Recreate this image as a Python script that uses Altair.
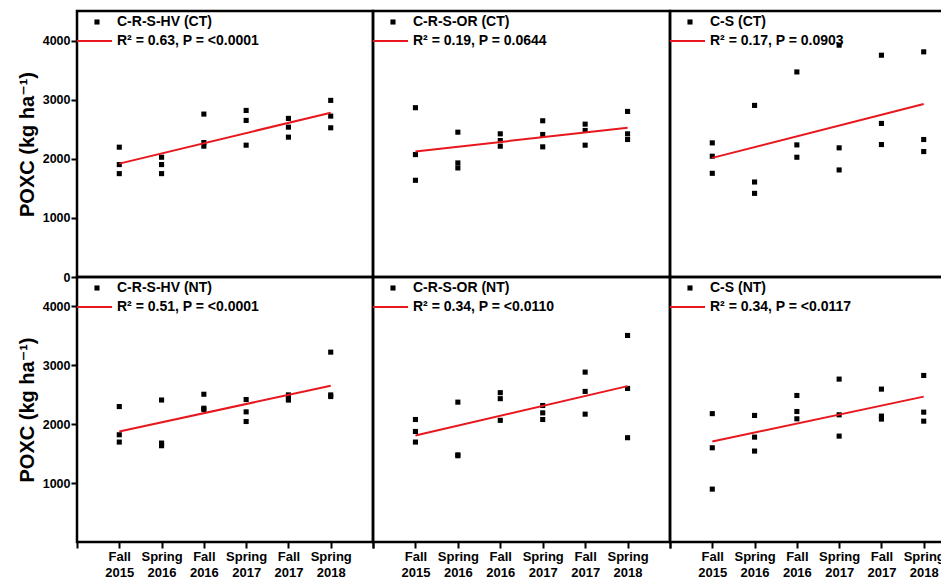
import altair as alt
import pandas as pd

seasons = ["Fall 2015", "Spring 2016", "Fall 2016", "Spring 2017", "Fall 2017", "Spring 2018"]

names = ["C-R-S-HV (CT)", "C-R-S-OR (CT)", "C-S (CT)",
         "C-R-S-HV (NT)", "C-R-S-OR (NT)", "C-S (NT)"]
stats = ["R\u00b2 = 0.63, P = <0.0001", "R\u00b2 = 0.19, P = 0.0644", "R\u00b2 = 0.17, P = 0.0903",
         "R\u00b2 = 0.51, P = <0.0001", "R\u00b2 = 0.34, P = <0.0110", "R\u00b2 = 0.34, P = <0.0117"]

# three replicate values per season, in season order
hv_ct = [2196, 1902, 1749, 2026, 1902, 1749, 2756, 2275, 2213, 2818, 2649, 2230, 2683, 2535, 2366, 2988, 2722, 2524]
or_ct = [2864, 2071, 1636, 2450, 1930, 1845, 2422, 2309, 2213, 2643, 2411, 2202, 2586, 2479, 2230, 2801, 2422, 2326]
cs_ct = [2269, 2043, 1754, 2903, 1607, 1415, 3469, 2235, 2026, 3922, 2185, 1811, 3752, 2598, 2241, 3809, 2326, 2122]
hv_nt = [2300, 1821, 1697, 2411, 1680, 1635, 2509, 2272, 2250, 2419, 2210, 2046, 2498, 2430, 2410, 3224, 2498, 2470]
or_nt = [2080, 1877, 1697, 2375, 1480, 1465, 2536, 2434, 2066, 2318, 2193, 2080, 2885, 2557, 2171, 3507, 2608, 1771]
cs_nt = [2180, 1600, 898, 2149, 1781, 1544, 2488, 2216, 2092, 2766, 2160, 1798, 2596, 2138, 2087, 2828, 2205, 2052]

series = [hv_ct, or_ct, cs_ct, hv_nt, or_nt, cs_nt]

RED = "#e8161d"
FONT = "Liberation Sans, Arial, DejaVu Sans"

season_arr = "[" + ",".join("'" + s + "'" for s in seasons) + "]"
xlabel_expr = f"(datum.value >= 0 && datum.value <= 5) ? split({season_arr}[datum.value], ' ') : ''"


def panel(i, width, height, show_x, show_y):
    vals = series[i]
    df = pd.DataFrame({"t": [k // 3 for k in range(len(vals))], "v": vals})
    base = alt.Chart(df)
    if show_x:
        xaxis = alt.Axis(values=[-1, 0, 1, 2, 3, 4, 5, 6], labelExpr=xlabel_expr, title=None,
                         grid=False, domain=False, tickSize=6, tickWidth=2, tickColor="black",
                         labelFont=FONT, labelFontSize=13, labelFontWeight="bold", labelColor="black",
                         labelPadding=2, labelLineHeight=16, labelBaseline="top", labelFlush=False)
    else:
        xaxis = None
    if show_y:
        yvals = [0, 1000, 2000, 3000, 4000] if i < 3 else [1000, 2000, 3000, 4000]
        yaxis = alt.Axis(values=yvals, format="d", title="POXC (kg ha\u207b\u00b9)", grid=False, domain=False,
                         tickSize=6, tickWidth=2, tickColor="black",
                         labelFont=FONT, labelFontSize=12.5, labelFontWeight="bold", labelColor="black",
                         labelPadding=1, labelFlush=False,
                         titleFont=FONT, titleFontSize=20, titleFontWeight="bold", titleColor="black",
                         titlePadding=5)
    else:
        yaxis = None
    x = alt.X("t:Q", scale=alt.Scale(domain=[-1, 6], nice=False, zero=False), axis=xaxis)
    y = alt.Y("v:Q", scale=alt.Scale(domain=[0, 4500], nice=False), axis=yaxis)
    pts = base.mark_square(size=26, color="black", opacity=1).encode(x=x, y=y)
    fit = base.transform_regression("t", "v", extent=[0, 5]).mark_line(
        color=RED, strokeWidth=2).encode(x=x, y=y)
    leg = alt.Chart(pd.DataFrame({"a": [0]}))
    sq = leg.mark_square(size=26, color="black", opacity=1).encode(x=alt.value(20), y=alt.value(11))
    ln = leg.mark_rule(color=RED, strokeWidth=2).encode(x=alt.value(0), x2=alt.value(35), y=alt.value(30))
    t1 = leg.mark_text(text=names[i], align="left", baseline="middle", font=FONT, fontSize=14,
                       fontWeight="bold", color="black").encode(x=alt.value(40), y=alt.value(11))
    t2 = leg.mark_text(text=stats[i], align="left", baseline="middle", font=FONT, fontSize=14,
                       fontWeight="bold", color="black").encode(x=alt.value(40), y=alt.value(30))
    return alt.layer(pts, fit, sq, ln, t1, t2).properties(width=width, height=height)


panels = [
    panel(0, 296, 266, False, True), panel(1, 297, 266, False, False), panel(2, 296, 266, False, False),
    panel(3, 296, 265, True, True), panel(4, 297, 265, True, False), panel(5, 296, 265, True, False),
]

chart = alt.concat(*panels, columns=3, spacing=0, bounds="flush").properties(
    padding={"left": 7, "top": 1, "right": -28, "bottom": 0}, background="white"
).configure_view(stroke="black", strokeWidth=2.5)

chart.save("out.html", embed_options={"renderer": "svg", "actions": False})
